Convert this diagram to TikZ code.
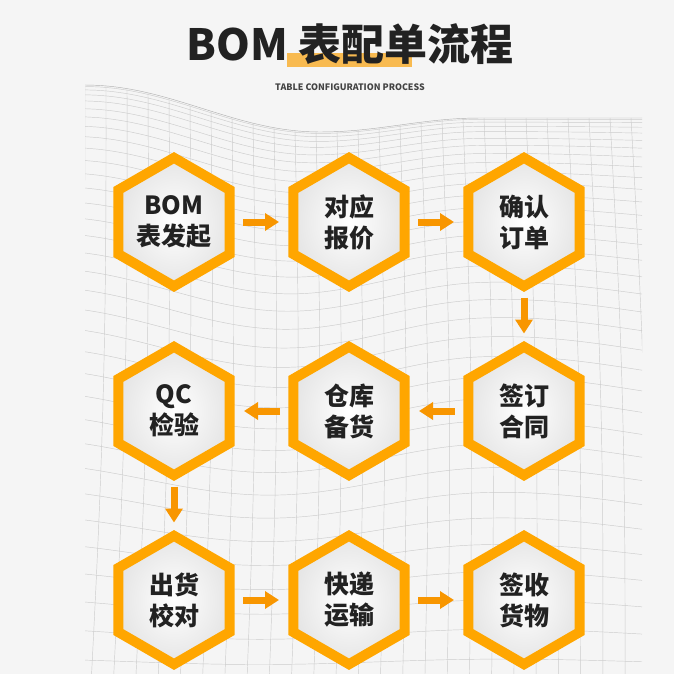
\documentclass[tikz,border=0pt]{standalone}
\usepackage{fontspec}
\setmainfont{Noto Sans CJK SC}
\usetikzlibrary{calc,arrows.meta}
\definecolor{bg}{RGB}{245,245,245}
\definecolor{hexor}{RGB}{255,166,0}
\definecolor{arror}{RGB}{248,150,0}
\definecolor{txtc}{RGB}{34,34,34}
\definecolor{hlc}{RGB}{248,186,80}
\definecolor{meshc}{RGB}{204,204,204}
\newcommand\hexat[1]{\draw[hexline] (#1) +(90:64.2) -- +(150:64.2) -- +(210:64.2) -- +(270:64.2) -- +(330:64.2) -- +(30:64.2) -- cycle;}
\begin{document}
\begin{tikzpicture}[x=1pt,y=-1pt,
  declare function={T(\x)=ifthenelse(\x<320,108.5-23.5*cos((\x-85)/235*180),125+7*cos(min(\x-320,160)/160*180));},
  mesh/.style={draw=meshc,line width=0.45pt},
  hexline/.style={draw=hexor,line width=10pt,line join=miter,inner color=white,outer color=black!10},
  lbl/.style={font=\bfseries\fontsize{25}{31}\selectfont,text=txtc,align=center,inner sep=0pt},
  arr/.style={draw=arror,line width=7pt,-{Triangle[width=17pt,length=14pt]}},
  titlestyle/.style={font=\bfseries\fontsize{43}{48}\selectfont,text=txtc,inner sep=0pt},
  substyle/.style={font=\bfseries\fontsize{8.9}{10}\selectfont,text=txtc!85,inner sep=0pt}]
\fill[bg] (0,0) rectangle (674,674);
\useasboundingbox (0,0) rectangle (674,674);
% background mesh
\begin{scope}
\clip (85,0) rectangle (642,674);
\foreach \k in {1,...,34}{
  \pgfmathsetmacro\s{(\k/34)^1.7}
  \draw[mesh] plot[domain=85:642,samples=40,smooth] (\x,{T(\x)+(690-T(\x))*\s+14*sin((\x-85)/557*360)*\s*(1-\s)*4});
}
\foreach \j in {0,...,26}{
  \pgfmathsetmacro\xj{85+21*\j}
  \pgfmathsetmacro\tj{T(\xj)}
  \draw[mesh] plot[domain=0:1,samples=12,smooth,variable=\t] ({\xj+(\xj-360)*0.06*\t+5*sin(\t*180)},{\tj+(690-\tj)*\t});
}
\draw[mesh,draw=black!30] plot[domain=85:642,samples=40,smooth] (\x,{T(\x)});
\end{scope}
% title
\fill[hlc] (287,53) rectangle (412,67);
\node[titlestyle] (title) at (350,44) {BOM 表配单流程};
\node[substyle] (sub) at (350,87) {TABLE CONFIGURATION PROCESS};
% hexagon centres
\coordinate (c1) at (174,222);
\coordinate (c2) at (349,222);
\coordinate (c3) at (524,222);
\coordinate (c4) at (524,411);
\coordinate (c5) at (349,411);
\coordinate (c6) at (174,411);
\coordinate (c7) at (174,600);
\coordinate (c8) at (349,600);
\coordinate (c9) at (524,600);
\foreach \c in {c1,c2,c3,c4,c5,c6,c7,c8,c9}{\hexat{\c}}
\node[lbl] (h1) at (c1) {BOM\\表发起};
\node[lbl] (h2) at (c2) {对应\\报价};
\node[lbl] (h3) at (c3) {确认\\订单};
\node[lbl] (h4) at (c4) {签订\\合同};
\node[lbl] (h5) at (c5) {仓库\\备货};
\node[lbl] (h6) at (c6) {QC\\检验};
\node[lbl] (h7) at (c7) {出货\\校对};
\node[lbl] (h8) at (c8) {快递\\运输};
\node[lbl] (h9) at (c9) {签收\\货物};
% arrows
\draw[arr] ($(h1)!0.395!(h2)$) -- ($(h1)!0.6!(h2)$);
\draw[arr] ($(h2)!0.395!(h3)$) -- ($(h2)!0.6!(h3)$);
\draw[arr] ($(h3)!0.40!(h4)$) -- ($(h3)!0.59!(h4)$);
\draw[arr] ($(h4)!0.395!(h5)$) -- ($(h4)!0.6!(h5)$);
\draw[arr] ($(h5)!0.395!(h6)$) -- ($(h5)!0.6!(h6)$);
\draw[arr] ($(h6)!0.40!(h7)$) -- ($(h6)!0.59!(h7)$);
\draw[arr] ($(h7)!0.395!(h8)$) -- ($(h7)!0.6!(h8)$);
\draw[arr] ($(h8)!0.395!(h9)$) -- ($(h8)!0.6!(h9)$);
\end{tikzpicture}
\end{document}
